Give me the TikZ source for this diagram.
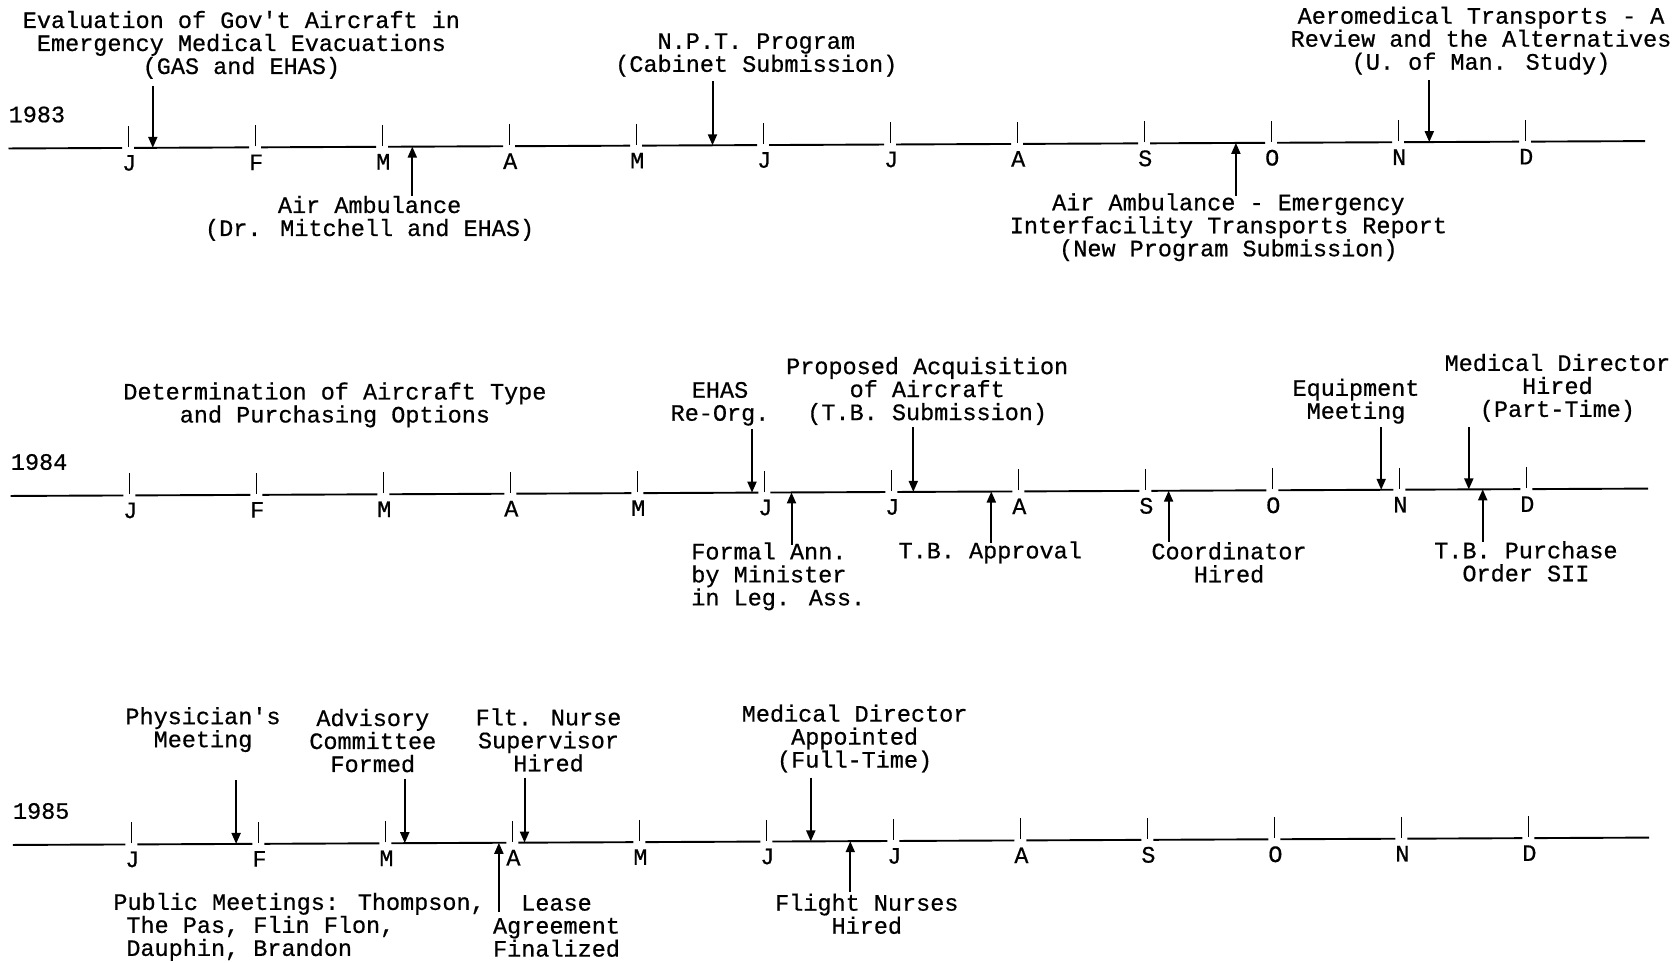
\documentclass[tikz,border=0pt]{standalone}
\usepackage{fontspec}
\newfontfamily\tw{Liberation Mono}[FakeBold=0.6]
\usetikzlibrary{arrows.meta}
\begin{document}
\begin{tikzpicture}[x=1pt,y=-1pt,
  every node/.style={inner sep=0pt, font=\tw\fontsize{23.5}{23}\selectfont},
  lbl/.style={align=center},
  lbll/.style={align=left, anchor=west},
  tl/.style={line width=1.9pt},
  tk/.style={line width=1.4pt},
  arr/.style={line width=2pt, -{Triangle[length=11pt,width=9pt]}},
]
\useasboundingbox[fill=white] (0,0) rectangle (1675,962);

% ---- time lines ----
\foreach \row/\Yo/\Xo/\xl/\xr/\yr in {1/148.5/128.2/8.5/1645/1983, 2/496/129.3/10.7/1648/1984, 3/845/131.4/12.8/1649/1985}{
  \node[anchor=west] (year\row) at (\xl,\Yo-34) {\yr};
  \foreach \m [count=\k from 0] in {J,F,M,A,M,J,J,A,S,O,N,D}{
    \pgfmathsetmacro\tx{\Xo+127*\k}
    \pgfmathsetmacro\ty{\Yo-0.0045*\tx}
    \draw[tk] (\tx,\ty-1) -- (\tx,\ty-22);
    \node (mo\row-\k) at (\tx+1,\ty+15) {\m};
    \ifnum\k=0 \pgfmathsetmacro\sx{\xl}\else\pgfmathsetmacro\sx{\tx-121}\fi
    \draw[tl] (\sx,{\Yo-0.0045*\sx}) -- ({\tx-6},{\Yo-0.0045*(\tx-6)});
  }
  \pgfmathsetmacro\lx{\Xo+127*11+6}
  \draw[tl] (\lx,{\Yo-0.0045*\lx}) -- (\xr,{\Yo-0.0045*\xr});
}

% ---- 1983 ----
\node[lbl] (ev1) at (241.4,44.9) {Evaluation of Gov't Aircraft in\\Emergency Medical Evacuations\\(GAS and EHAS)};
\coordinate (ev1s) at (152.8,85.5); \coordinate (ev1t) at (152.8,147.8);
\draw[arr] (ev1s) -- (ev1t);

\node[lbl] (ev2) at (369.6,218.4) {Air Ambulance\\(Dr. Mitchell and EHAS)};
\coordinate (ev2s) at (412.3,195.5); \coordinate (ev2t) at (412.3,146.6);
\draw[arr] (ev2s) -- (ev2t);

\node[lbl] (ev3) at (756.3,55) {N.P.T. Program\\(Cabinet Submission)};
\coordinate (ev3s) at (712.5,81.2); \coordinate (ev3t) at (712.5,145.3);
\draw[arr] (ev3s) -- (ev3t);

\node[lbl] (ev4) at (1228.4,227.2) {Air Ambulance - Emergency\\Interfacility Transports Report\\(New Program Submission)};
\coordinate (ev4s) at (1235.9,196); \coordinate (ev4t) at (1235.9,142.9);
\draw[arr] (ev4s) -- (ev4t);

\node[lbl] (ev5) at (1481,40.6) {Aeromedical Transports - A\\Review and the Alternatives\\(U. of Man. Study)};
\coordinate (ev5s) at (1429.3,80.1); \coordinate (ev5t) at (1429.3,142.1);
\draw[arr] (ev5s) -- (ev5t);

% ---- 1984 ----
\node[lbl] (ev6) at (334.9,404.9) {Determination of Aircraft Type\\and Purchasing Options};

\node[lbl] (ev7) at (720,403.8) {EHAS\\Re-Org.};
\coordinate (ev7s) at (752,429.4); \coordinate (ev7t) at (752,492.6);
\draw[arr] (ev7s) -- (ev7t);

\node[lbl] (ev8) at (927.2,391) {Proposed Acquisition\\of Aircraft\\(T.B. Submission)};
\coordinate (ev8s) at (913.3,427.3); \coordinate (ev8t) at (913.3,491.9);
\draw[arr] (ev8s) -- (ev8t);

\node[lbl] (ev9) at (1356,401.2) {Equipment\\Meeting};
\coordinate (ev9s) at (1381.2,427.3); \coordinate (ev9t) at (1381.2,489.8);
\draw[arr] (ev9s) -- (ev9t);

\node[lbl] (ev10) at (1557.4,387.8) {Medical Director\\Hired\\(Part-Time)};
\coordinate (ev10s) at (1468.8,427.3); \coordinate (ev10t) at (1468.8,489.4);
\draw[arr] (ev10s) -- (ev10t);

\node[lbll] (ev11) at (691.1,576.3) {Formal Ann.\\by Minister\\in Leg. Ass.};
\coordinate (ev11s) at (791.5,544.8); \coordinate (ev11t) at (791.5,492.4);
\draw[arr] (ev11s) -- (ev11t);

\node[lbl] (ev12) at (990.2,552.3) {T.B. Approval};
\coordinate (ev12s) at (991.3,542.6); \coordinate (ev12t) at (991.3,491.5);
\draw[arr] (ev12s) -- (ev12t);

\node[lbl] (ev13) at (1229,562.4) {Coordinator\\Hired};
\coordinate (ev13s) at (1168.6,541.6); \coordinate (ev13t) at (1168.6,490.7);
\draw[arr] (ev13s) -- (ev13t);

\node[lbl] (ev14) at (1525.9,561.4) {T.B. Purchase\\Order SII};
\coordinate (ev14s) at (1482.7,541.6); \coordinate (ev14t) at (1482.7,489.3);
\draw[arr] (ev14s) -- (ev14t);

% ---- 1985 ----
\node[lbl] (ev15) at (203,729.6) {Physician's\\Meeting};
\coordinate (ev15s) at (236.1,779.8); \coordinate (ev15t) at (236.1,843.9);
\draw[arr] (ev15s) -- (ev15t);

\node[lbl] (ev16) at (372.8,740.6) {Advisory\\Committee\\Formed};
\coordinate (ev16s) at (404.8,778.7); \coordinate (ev16t) at (404.8,843.2);
\draw[arr] (ev16s) -- (ev16t);

\node[lbl] (ev17) at (548.5,739.9) {Flt. Nurse\\Supervisor\\Hired};
\coordinate (ev17s) at (524.5,777.7); \coordinate (ev17t) at (524.5,842.6);
\draw[arr] (ev17s) -- (ev17t);

\node[lbl] (ev18) at (854.6,738.5) {Medical Director\\Appointed\\(Full-Time)};
\coordinate (ev18s) at (810.8,777.7); \coordinate (ev18t) at (810.8,841.4);
\draw[arr] (ev18s) -- (ev18t);

\node[lbll] (ev19) at (113.2,926.8) {Public Meetings: Thompson,\\\hspace*{13pt}The Pas, Flin Flon,\\\hspace*{13pt}Dauphin, Brandon};

\node[lbl] (ev20) at (556.5,926) {Lease\\Agreement\\Finalized};
\coordinate (ev20s) at (498.9,912); \coordinate (ev20t) at (498.9,842.8);
\draw[arr] (ev20s) -- (ev20t);

\node[lbl] (ev21) at (866.8,913.8) {Flight Nurses\\Hired};
\coordinate (ev21s) at (850.3,892); \coordinate (ev21t) at (850.3,841.2);
\draw[arr] (ev21s) -- (ev21t);
\end{tikzpicture}
\end{document}
